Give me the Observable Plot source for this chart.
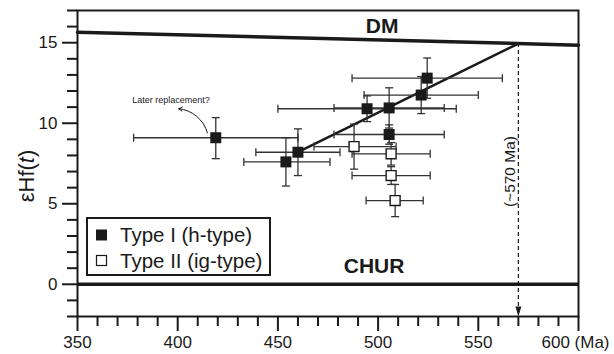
<!DOCTYPE html>
<html>
<head>
<meta charset="utf-8">
<script src="https://cdn.jsdelivr.net/npm/d3@7"></script>
<script src="https://cdn.jsdelivr.net/npm/@observablehq/plot@0.6"></script>
<style>
  html, body { margin: 0; padding: 0; background: #fff; }
  #chart { width: 614px; height: 354px; position: relative; }
</style>
</head>
<body>
<div id="chart"></div>
<script>
// ---- Data ----
// Type I (h-type), filled squares
const type1Age   = [419, 460, 454, 494.5, 505.5, 505.5, 521.5, 524.5];
const type1Hf    = [9.1, 8.2, 7.6, 10.9, 10.95, 9.3, 11.75, 12.8];
const type1AgeLo = [378, 439, 433, 450, 478, 478, 493, 487];
const type1AgeHi = [460, 481, 476, 539, 533, 533, 550, 562];
const type1HfLo  = [7.8, 6.75, 6.1, 10.1, 9.7, 8.7, 10.6, 11.55];
const type1HfHi  = [10.35, 9.65, 9.1, 11.7, 12.2, 9.9, 12.9, 14.05];
// Type II (ig-type), open squares
const type2Age   = [488, 506.5, 506.5, 508.5];
const type2Hf    = [8.55, 8.1, 6.75, 5.2];
const type2AgeLo = [468, 487, 487, 494];
const type2AgeHi = [509, 526, 526, 522.5];
const type2HfLo  = [7.15, 7.4, 6.2, 4.2];
const type2HfHi  = [9.95, 8.8, 7.3, 6.2];
// Reference lines
const dmAge = [350, 600];
const dmHf  = [15.65, 14.85];
const churHf = 0;
const evoAge = [460, 570];
const evoHf  = [8.2, 14.95];
const modelAge = 570;
// Labels
const lineLabels = ["DM", "CHUR"];
const lineLabelAge = [502, 498];
const lineLabelHf = [16.0, 1.1];
const noteText = "Later replacement?";
const noteAge = 396.7, noteHf = 11.42;
const noteArrow = {x1: 414.8, y1: 9.4, x2: 400.5, y2: 10.9};
const ageText = "(~570 Ma)";
const ageTextPos = {x: 565.6, y: 7.0};
const legendLabels = ["Type I (h-type)", "Type II (ig-type)"];
// Axes
const xDomain = [350, 600];
const yDomain = [-2, 17];
const xMajor = [350, 400, 450, 500, 550, 600];
const xLast = 600;
const xUnit = "(Ma)";
const xMinor = d3.range(360, 600, 10).filter(d => d % 50 !== 0);
const yMajor = [0, 5, 10, 15];
const yMinor = d3.range(-2, 18, 1).filter(d => d % 5 !== 0);

// ---- Build tables ----
const t1 = type1Age.map((x, i) => ({x, y: type1Hf[i], xlo: type1AgeLo[i], xhi: type1AgeHi[i], ylo: type1HfLo[i], yhi: type1HfHi[i]}));
const t2 = type2Age.map((x, i) => ({x, y: type2Hf[i], xlo: type2AgeLo[i], xhi: type2AgeHi[i], ylo: type2HfLo[i], yhi: type2HfHi[i]}));
const all = t1.concat(t2);
const dm = dmAge.map((x, i) => ({x, y: dmHf[i]}));
const evo = evoAge.map((x, i) => ({x, y: evoHf[i]}));
const dmAtModel = dmHf[0] + (dmHf[1] - dmHf[0]) * (modelAge - dmAge[0]) / (dmAge[1] - dmAge[0]);

// custom symbols
const capV = {draw(ctx, size) { const r = Math.sqrt(size / Math.PI); ctx.moveTo(0, -r); ctx.lineTo(0, r); }};
const capH = {draw(ctx, size) { const r = Math.sqrt(size / Math.PI); ctx.moveTo(-r, 0); ctx.lineTo(r, 0); }};
const triDown = {draw(ctx, size) { const r = Math.sqrt(size / Math.PI); ctx.moveTo(-r * 0.75, -r * 2.5); ctx.lineTo(r * 0.75, -r * 2.5); ctx.lineTo(0, 0); ctx.closePath(); }};

const ink = "#1a1a1a";
const barInk = "#333";
const font = "Liberation Sans, Arial, Helvetica, sans-serif";

const chart = Plot.plot({
  width: 614,
  height: 354,
  marginLeft: 77,
  marginRight: 36,
  marginTop: 10,
  marginBottom: 38,
  style: {fontFamily: font, color: ink, background: "white", overflow: "visible"},
  x: {domain: xDomain, axis: null},
  y: {domain: yDomain, axis: null},
  marks: [
    // axes
    Plot.axisX({ticks: xMinor, tickSize: 10, tickFormat: () => "", strokeWidth: 2, label: null}),
    Plot.axisX({ticks: xMajor, tickSize: 15, tickPadding: 4, strokeWidth: 2, fontSize: 17, label: null,
      tickFormat: d => d === xLast ? "" : String(d)}),
    Plot.axisX({ticks: [xLast], tickSize: 0, tickPadding: 19, dx: -3, fontSize: 17, label: null,
      tickFormat: d => `${d} ${xUnit}`}),
    Plot.axisY({ticks: yMinor, tickSize: 10, tickFormat: () => "", strokeWidth: 2, label: null}),
    Plot.axisY({ticks: yMajor, tickSize: 15, tickPadding: 5, strokeWidth: 2, fontSize: 17, label: null}),
    // reference lines
    Plot.line(dm, {x: "x", y: "y", stroke: ink, strokeWidth: 3.5}),
    Plot.ruleY([churHf], {stroke: ink, strokeWidth: 3.5}),
    Plot.ruleX([modelAge], {y1: dmAtModel, y2: yDomain[0], stroke: ink, strokeWidth: 1.2, strokeDasharray: "4,3"}),
    Plot.dot([modelAge], {x: d => d, y: () => yDomain[0], symbol: triDown, r: 4, fill: ink, stroke: "none"}),
    Plot.line(evo, {x: "x", y: "y", stroke: ink, strokeWidth: 2.5}),
    // error bars
    Plot.link(all, {x1: "xlo", x2: "xhi", y1: "y", y2: "y", stroke: barInk, strokeWidth: 1.3}),
    Plot.link(all, {x1: "x", x2: "x", y1: "ylo", y2: "yhi", stroke: barInk, strokeWidth: 1.3}),
    Plot.dot(all, {x: "xlo", y: "y", symbol: capV, r: 4, stroke: barInk, fill: "none", strokeWidth: 1.3}),
    Plot.dot(all, {x: "xhi", y: "y", symbol: capV, r: 4, stroke: barInk, fill: "none", strokeWidth: 1.3}),
    Plot.dot(all, {x: "x", y: "ylo", symbol: capH, r: 4, stroke: barInk, fill: "none", strokeWidth: 1.3}),
    Plot.dot(all, {x: "x", y: "yhi", symbol: capH, r: 4, stroke: barInk, fill: "none", strokeWidth: 1.3}),
    // points
    Plot.dot(t2, {x: "x", y: "y", symbol: "square", r: 5.6, fill: "white", stroke: ink, strokeWidth: 1.4}),
    Plot.dot(t1, {x: "x", y: "y", symbol: "square", r: 6.2, fill: ink, stroke: "none"}),
    // labels
    Plot.text(lineLabels, {x: (d, i) => lineLabelAge[i], y: (d, i) => lineLabelHf[i], text: d => d,
      fontSize: 21, fontWeight: "bold", fill: ink}),
    Plot.text([noteText], {x: () => noteAge, y: () => noteHf, text: d => d, fontSize: 9, fill: ink}),
    Plot.arrow([noteArrow], {x1: "x1", y1: "y1", x2: "x2", y2: "y2", bend: -35, headLength: 6, stroke: ink, strokeWidth: 1}),
    Plot.text([ageText], {x: () => ageTextPos.x, y: () => ageTextPos.y, text: d => d, rotate: -90, fontSize: 15.5, fill: ink}),
    Plot.frame({stroke: ink, strokeWidth: 2})
  ]
});

const svg = d3.select(chart);
// y-axis label  εHf(t)
const yl = svg.append("text")
  .attr("transform", "translate(34,176) rotate(-90)")
  .attr("text-anchor", "middle")
  .attr("font-family", font)
  .attr("font-size", 22)
  .attr("fill", ink);
yl.append("tspan").text("εHf(");
yl.append("tspan").attr("font-style", "italic").text("t");
yl.append("tspan").text(")");

// legend
const lg = svg.append("g").attr("font-family", font).attr("text-anchor", "start");
lg.append("rect").attr("x", 87).attr("y", 218).attr("width", 183).attr("height", 57)
  .attr("fill", "white").attr("stroke", ink).attr("stroke-width", 2);
lg.append("rect").attr("x", 96).attr("y", 229.5).attr("width", 11).attr("height", 11).attr("fill", ink);
lg.append("rect").attr("x", 96.5).attr("y", 255.5).attr("width", 10).attr("height", 10)
  .attr("fill", "white").attr("stroke", ink).attr("stroke-width", 1.2);
legendLabels.forEach((t, i) => {
  lg.append("text").attr("x", 120).attr("y", 242 + i * 25.5).attr("font-size", 20.5)
    .attr("text-anchor", "start").attr("fill", ink).text(t);
});

document.getElementById("chart").appendChild(chart);
</script>
</body>
</html>
